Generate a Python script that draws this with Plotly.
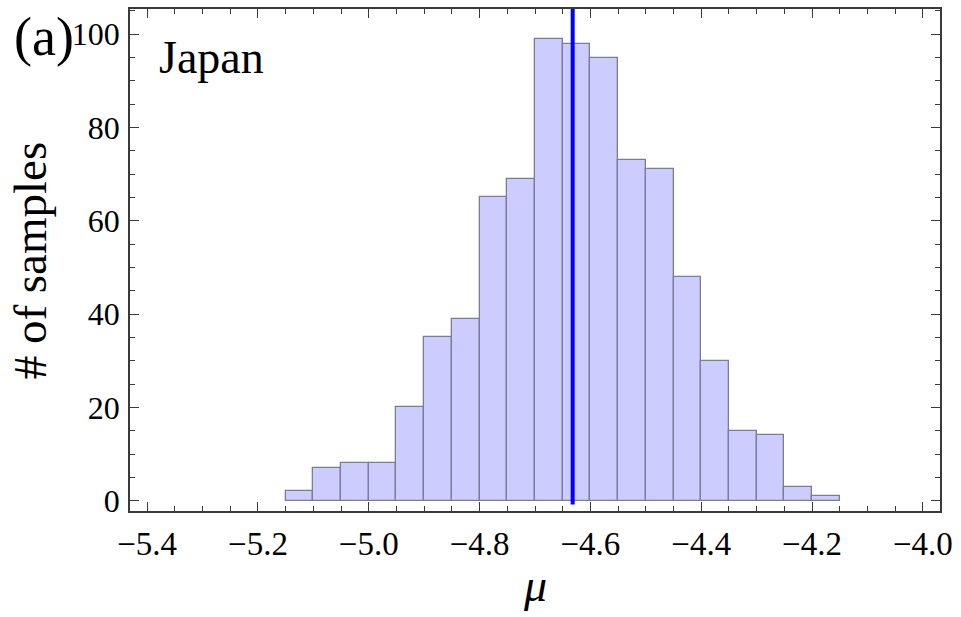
import plotly.graph_objects as go

# ---- data ----
bin_lower = [-5.15, -5.10, -5.05, -5.00, -4.95, -4.90, -4.85, -4.80, -4.75, -4.70,
             -4.65, -4.60, -4.55, -4.50, -4.45, -4.40, -4.35, -4.30, -4.25, -4.20]
bin_width = 0.05
counts = [2, 7, 8, 8, 20, 35, 39, 65, 69, 99,
          98, 95, 73, 71, 48, 30, 15, 14, 3, 1]
mu_estimate = -4.632
x_tickvals = [-5.4, -5.2, -5.0, -4.8, -4.6, -4.4, -4.2, -4.0]
x_ticktext = ["\u22125.4", "\u22125.2", "\u22125.0", "\u22124.8", "\u22124.6", "\u22124.4", "\u22124.2", "\u22124.0"]
y_tickvals = [0, 20, 40, 60, 80, 100]

centers = [b + bin_width / 2 for b in bin_lower]

FONT = "'Liberation Serif', 'Times New Roman', Times, serif"
AX = "#3a3a3a"

fig = go.Figure()
fig.add_trace(go.Bar(
    x=centers, y=counts, width=[bin_width] * len(counts),
    marker=dict(color="#CCCCFF", line=dict(color="#7C7C98", width=1.3)),
    showlegend=False, hoverinfo="x+y"))
fig.add_trace(go.Scatter(
    x=[mu_estimate, mu_estimate], y=[-0.8, 110], mode="lines",
    line=dict(color="#0000FF", width=4), showlegend=False, cliponaxis=True))

fig.update_layout(
    width=961, height=617,
    margin=dict(l=130, r=21, t=9, b=106),
    paper_bgcolor="white", plot_bgcolor="white",
    bargap=0,
    font=dict(family=FONT, color="black", size=32),
)
fig.update_xaxes(
    range=[-5.431, -3.969], tickvals=x_tickvals, ticktext=x_ticktext,
    showgrid=False, zeroline=False, automargin=False,
    showline=True, linecolor=AX, linewidth=1.5, mirror="ticks",
    ticks="inside", ticklen=9, tickwidth=1.3, tickcolor=AX,
    minor=dict(dtick=0.05, tick0=-5.4, ticks="inside", ticklen=5, tickwidth=1.2, tickcolor=AX, showgrid=False),
    tickfont=dict(family=FONT, size=33, color="black"),
    ticklabelstandoff=3,
)
fig.update_yaxes(
    range=[-2.2, 105.4], tickvals=y_tickvals,
    showgrid=False, zeroline=False, automargin=False,
    showline=True, linecolor=AX, linewidth=1.5, mirror="ticks",
    ticks="inside", ticklen=9, tickwidth=1.3, tickcolor=AX,
    minor=dict(dtick=5, tick0=0, ticks="inside", ticklen=5, tickwidth=1.2, tickcolor=AX, showgrid=False),
    tickfont=dict(family=FONT, size=32, color="black"),
    ticklabelstandoff=2,
)

fig.add_annotation(text="(a)", xref="paper", yref="paper", x=-0.1457, y=0.945,
                   xanchor="left", yanchor="middle", showarrow=False,
                   font=dict(family=FONT, size=54, color="black"))
fig.add_annotation(text="Japan", xref="paper", yref="paper", x=0.0333, y=0.904,
                   xanchor="left", yanchor="middle", showarrow=False,
                   font=dict(family=FONT, size=46, color="black"))
fig.add_annotation(text="# of samples", xref="paper", yref="paper", x=-0.123, y=0.5,
                   xanchor="center", yanchor="middle", textangle=-90, showarrow=False,
                   font=dict(family=FONT, size=47, color="black"))
fig.add_annotation(text="<i>μ</i>", xref="paper", yref="paper", x=0.5, y=-0.148,
                   xanchor="center", yanchor="middle", showarrow=False,
                   font=dict(family=FONT, size=46, color="black"))

fig.write_html("out.html")
